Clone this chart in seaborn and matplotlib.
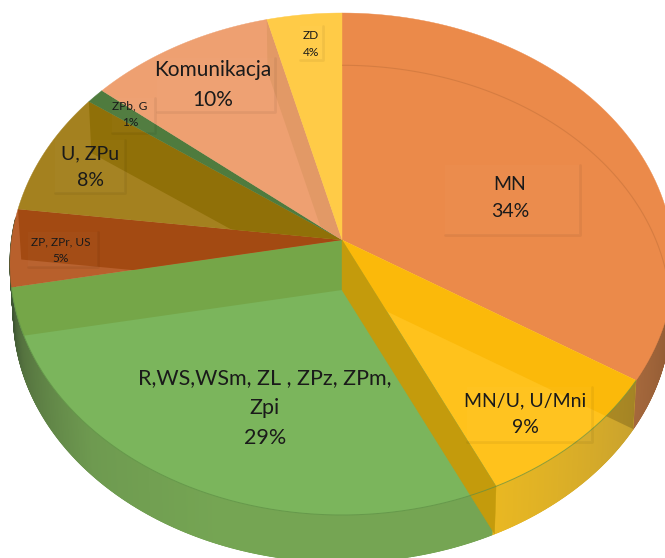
import numpy as np
import matplotlib
matplotlib.use("Agg")
import matplotlib.pyplot as plt
from matplotlib.patches import Polygon, Rectangle
from matplotlib.colors import to_rgb
import seaborn as sns

# chart data, clockwise from 12 o'clock
labels = ["MN", "MN/U, U/Mni", "R,WS,WSm, ZL , ZPz, ZPm,\nZpi", "ZP, ZPr, US",
          "U, ZPu", "ZPb, G", "Komunikacja", "ZD"]
values = [34, 9, 29, 5, 8, 1, 10, 4]

sns.set_theme(style="white")
plt.rcParams["font.family"] = ["Lato", "DejaVu Sans"]

top_colors = sns.color_palette(["#EB8A4A", "#FFC21C", "#7BB55C", "#B8602C",
                                "#A4811F", "#4F7B3E", "#EEA071", "#FFCB47"])
band_colors = [None, "#FBB90A", "#75A648", "#A34A12", "#907008", None, "#E29966", None]
# which slice edge gives the inner wall seen through each slice
band_edge = [None, 1, 3, 4, 5, None, 7, None]

# projection of the tilted disc, in pixels of the picture
cx, cy = 342, 240
rx, ry, persp = 330.5, 248.7, 0.0956
depth, low_scale = 50, 0.99


def angle(pct):
    return np.radians(np.asarray(pct, dtype=float) * 3.6)


def top_xy(th):
    u, v = np.sin(th), -np.cos(th)
    w = 1 - persp * v
    return np.column_stack([cx + rx * u / w, cy + ry * v / w])


def low_xy(th):
    p = top_xy(th)
    p[:, 0] = cx + low_scale * (p[:, 0] - cx)
    p[:, 1] = cy + depth + low_scale * (p[:, 1] - cy)
    return p


fig = plt.figure(figsize=(6.65, 5.58), dpi=100)
ax = fig.add_axes([0, 0, 1, 1])
ax.set_xlim(0, 665)
ax.set_ylim(558, 0)
ax.axis("off")

edges = np.concatenate([[0], np.cumsum(values)])
apex = np.array([[cx, cy]])
low_apex = np.array([[cx, cy + depth]])

# side of the disc, thin strips shaded by angle
side_deg = [85, 122.4, 122.5, 155, 155.1, 200, 225, 250, 262, 275]
side_c = ["#7E4E2C", "#A5683C", "#C9A22E", "#E9B822", "#75A553", "#75A553",
          "#6E9A50", "#55733F", "#3E5533", "#3E5533"]
side_rgb = np.array([to_rgb(c) for c in side_c])
for d in np.arange(85, 275, 0.25):
    th = np.radians([d, d + 0.4])
    col = [np.interp(d, side_deg, side_rgb[:, i]) for i in range(3)]
    ax.add_patch(Polygon(np.vstack([top_xy(th), low_xy(th)[::-1]]), fc=col, ec=col, lw=0.6, zorder=1))

# top face of every slice
wedges = []
for i, val in enumerate(values):
    th = np.linspace(angle(edges[i]), angle(edges[i + 1]), 80)
    w = Polygon(np.vstack([apex, top_xy(th)]), fc=top_colors[i], ec=top_colors[i], lw=0.3, zorder=2)
    ax.add_patch(w)
    wedges.append(w)


def wall(pct):
    th = np.array([angle(pct)])
    return np.vstack([apex, top_xy(th), low_xy(th), low_apex])


# inner walls showing through the transparent top
for i, col in enumerate(band_colors):
    if col is None:
        continue
    q = Polygon(wall(edges[band_edge[i]]), fc=col, ec="none", zorder=3)
    ax.add_patch(q)
    q.set_clip_path(wedges[i])

# the MN wall also darkens the side of MN/U
th = np.linspace(angle(edges[1]), angle(edges[2]), 60)
yellow_side = Polygon(np.vstack([top_xy(th), low_xy(th)[::-1]]), fc="none", ec="none", zorder=1)
ax.add_patch(yellow_side)
q = Polygon(wall(edges[1]), fc="black", alpha=0.18, ec="none", zorder=3)
ax.add_patch(q)
q.set_clip_path(yellow_side)

# gold wall between MN/U and the green slice
ax.add_patch(Polygon(wall(edges[2]), fc="#C49B0C", ec="#C49B0C", lw=0.3, zorder=4))

# faint bottom rim seen through the orange slice
th = np.linspace(angle(0), angle(edges[1]), 100)
rim = ax.plot(*low_xy(th).T, color="#C8743C", lw=0.8, alpha=0.6, zorder=3)[0]
rim.set_clip_path(wedges[0])

# thin front edge of the top face
th = np.linspace(angle(edges[1]), angle(edges[3]), 160)
ax.plot(*top_xy(th).T, color="#5E8F45", lw=0.7, alpha=0.7, zorder=5)

# labels with the faint frame of the data callouts
label_xy = [(510, 198), (525, 414), (265, 408), (61, 250), (90, 167), (130, 114), (213, 85), (311, 44)]
label_size = [14, 14, 15.5, 8.6, 14, 8.6, 15, 8.6]
label_box = [(445, 165, 580, 235), (467, 387, 592, 442), None, (28, 232, 98, 267),
             (55, 140, 125, 193), (112, 98, 155, 133), (157, 58, 275, 112), (300, 26, 323, 60)]

for i, name in enumerate(labels):
    if label_box[i] is not None:
        x0, y0, x1, y1 = label_box[i]
        ax.add_patch(Rectangle((x0, y0), x1 - x0, y1 - y0, fc="white", alpha=0.02, ec="none", zorder=6))
        ax.plot([x0, x1, x1], [y1, y1, y0], color="black", alpha=0.05, lw=2, zorder=6)
    ax.text(label_xy[i][0], label_xy[i][1], f"{name}\n{values[i]}%", ha="center", va="center",
            fontsize=label_size[i], color="#1A1A1A", linespacing=1.65, zorder=7)

fig.savefig("out.png", dpi=100)
